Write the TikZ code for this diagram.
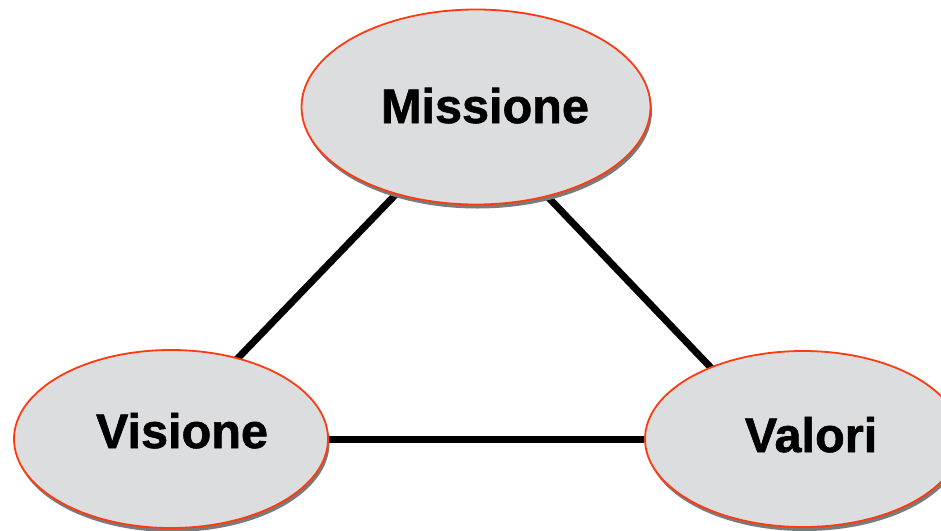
\documentclass[tikz,border=0pt]{standalone}
\usepackage{fontspec}
\setmainfont{Liberation Sans}[BoldFeatures={FakeBold=1.2}]
\usetikzlibrary{shapes.geometric,shadows,backgrounds}
\definecolor{bordo}{HTML}{FF3A10}
\definecolor{fondo}{HTML}{DCDDDF}
\definecolor{ombra}{HTML}{7A7A7A}
\begin{document}
\begin{tikzpicture}[x=1pt,y=-1pt,
  bolla/.style={ellipse,draw=bordo,line width=1.8pt,fill=fondo,inner sep=0pt,
    drop shadow={shadow xshift=1.5pt,shadow yshift=-4pt,fill=ombra,opacity=1}},
  parola/.style={anchor=base,inner sep=0pt,font=\fontsize{48.6}{50}\selectfont\bfseries},
  lato/.style={line width=7pt}]
\useasboundingbox (0,0) rectangle (941,530);
% le tre bolle
\node [bolla,minimum width=349pt,minimum height=195pt] (mis) at (476,107) {};
\node [bolla,minimum width=314pt,minimum height=178pt] (vis) at (171,439) {};
\node [bolla,minimum width=316pt,minimum height=176pt] (val) at (803,439) {};
\node [parola] (tmis) at (485,123) {Missione};
\node [parola] (tvis) at (182,448) {Visione};
\node [parola] (tval) at (811,452) {Valori};
% i lati del triangolo
\begin{pgfonlayer}{background}
\draw [lato] ([xshift=4]mis.center) -- ([xshift=-11]vis.center);
\draw [lato] ([xshift=-14]mis.center) -- ([xshift=-24]val.center);
\draw [lato] (vis) -- (val);
\end{pgfonlayer}
\end{tikzpicture}
\end{document}
